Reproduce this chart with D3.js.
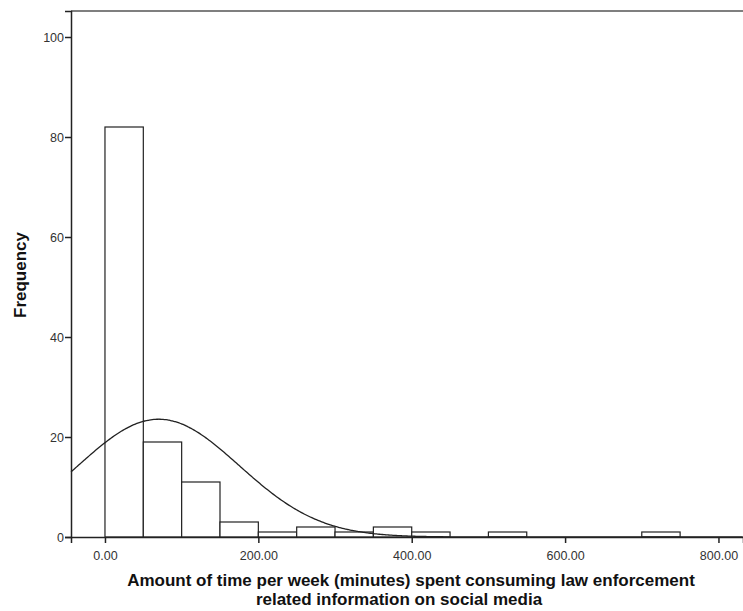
<!DOCTYPE html>
<html lang="en">
<head>
  <meta charset="UTF-8">
  <title>Histogram</title>
  <style>
    body { margin: 0; background: #fff; }
    text { font-family: "Liberation Sans", Arial, sans-serif; }
  </style>
</head>
<body>
  <svg id="chart" width="743" height="611"></svg>

  <script src="https://d3js.org/d3.v7.min.js"></script>
  <script>
    // bin edges (lower bound) and counts
    const binStarts = [0, 50, 100, 150, 200, 250, 300, 350, 400, 500, 700];
    const binCounts = [82, 19, 11, 3, 1, 2, 1, 2, 1, 1, 1];
    const binWidth = 50;
    const xTicks = [0, 200, 400, 600, 800];
    const yTicks = [0, 20, 40, 60, 80, 100];

    // normal curve parameters (SPSS overlay)
    const curveMean = 70;
    const curveSd = 105;
    const curveN = 124;

    const margin = { top: 11, right: 0, bottom: 74, left: 71 };
    const width = 743 - margin.left - margin.right;
    const height = 611 - margin.top - margin.bottom;

    const svg = d3.select("#chart")
      .append("g")
      .attr("transform", `translate(${margin.left}, ${margin.top})`);

    const xScale = d3.scaleLinear()
      .domain([-44.3, 832])
      .range([0, width]);

    const yScale = d3.scaleLinear()
      .domain([0, 105.2])
      .range([height, 0]);

    // top frame line
    svg.append("line")
      .attr("x1", 0).attr("x2", width)
      .attr("y1", 0).attr("y2", 0)
      .attr("stroke", "#555")
      .attr("stroke-width", 1.5);

    svg.selectAll("rect.bar")
      .data(binStarts.map((s, i) => ({ start: s, count: binCounts[i] })))
      .enter()
      .append("rect")
      .attr("class", "bar")
      .attr("x", d => xScale(d.start))
      .attr("y", d => yScale(d.count))
      .attr("width", d => xScale(d.start + binWidth) - xScale(d.start))
      .attr("height", d => yScale(0) - yScale(d.count))
      .attr("fill", "#fff")
      .attr("stroke", "#222")
      .attr("stroke-width", 1.2);

    const normal = x => curveN * binWidth / (curveSd * Math.sqrt(2 * Math.PI)) *
      Math.exp(-0.5 * Math.pow((x - curveMean) / curveSd, 2));

    const curvePts = d3.range(-44.3, 832, 2).map(x => [x, normal(x)]);
    const line = d3.line()
      .x(d => xScale(d[0]))
      .y(d => yScale(d[1]))
      .curve(d3.curveBasis);

    svg.append("path")
      .datum(curvePts.filter(d => yScale(d[1]) < height))
      .attr("d", line)
      .attr("fill", "none")
      .attr("stroke", "#222")
      .attr("stroke-width", 1.3);

    const xAxis = d3.axisBottom(xScale)
      .tickValues(xTicks)
      .tickFormat(d3.format(".2f"))
      .tickSizeOuter(0)
      .tickSize(6);

    const yAxis = d3.axisLeft(yScale)
      .tickValues(yTicks)
      .tickSizeOuter(0)
      .tickSize(6);

    const gx = svg.append("g")
      .attr("transform", `translate(0, ${height})`)
      .call(xAxis);

    const gy = svg.append("g")
      .call(yAxis);

    [gx, gy].forEach(g => {
      g.select(".domain").attr("stroke", "#222").attr("stroke-width", 1.5);
      g.selectAll(".tick line").attr("stroke", "#222").attr("stroke-width", 1.5);
      g.selectAll(".tick text")
        .attr("fill", "#333")
        .style("font-size", "12.5px")
        .style("font-family", "'Liberation Sans', Arial, sans-serif");
    });
    gx.selectAll(".tick text").attr("dy", "1.1em");
    gy.selectAll(".tick text").attr("x", -7);

    svg.append("text")
      .attr("transform", "rotate(-90)")
      .attr("x", -(275 - margin.top))
      .attr("y", -margin.left + 26)
      .style("text-anchor", "middle")
      .style("font-size", "17px")
      .style("font-weight", "bold")
      .attr("fill", "#111")
      .text("Frequency");

    const xLabel = svg.append("text")
      .attr("y", height + 49)
      .style("text-anchor", "middle")
      .style("font-size", "17px")
      .style("font-weight", "bold")
      .attr("fill", "#111");
    xLabel.append("tspan")
      .attr("x", 411 - margin.left)
      .text("Amount of time per week (minutes) spent consuming law enforcement");
    xLabel.append("tspan")
      .attr("x", 399 - margin.left)
      .attr("dy", 19)
      .text("related information on social media");
  </script>
</body>
</html>
